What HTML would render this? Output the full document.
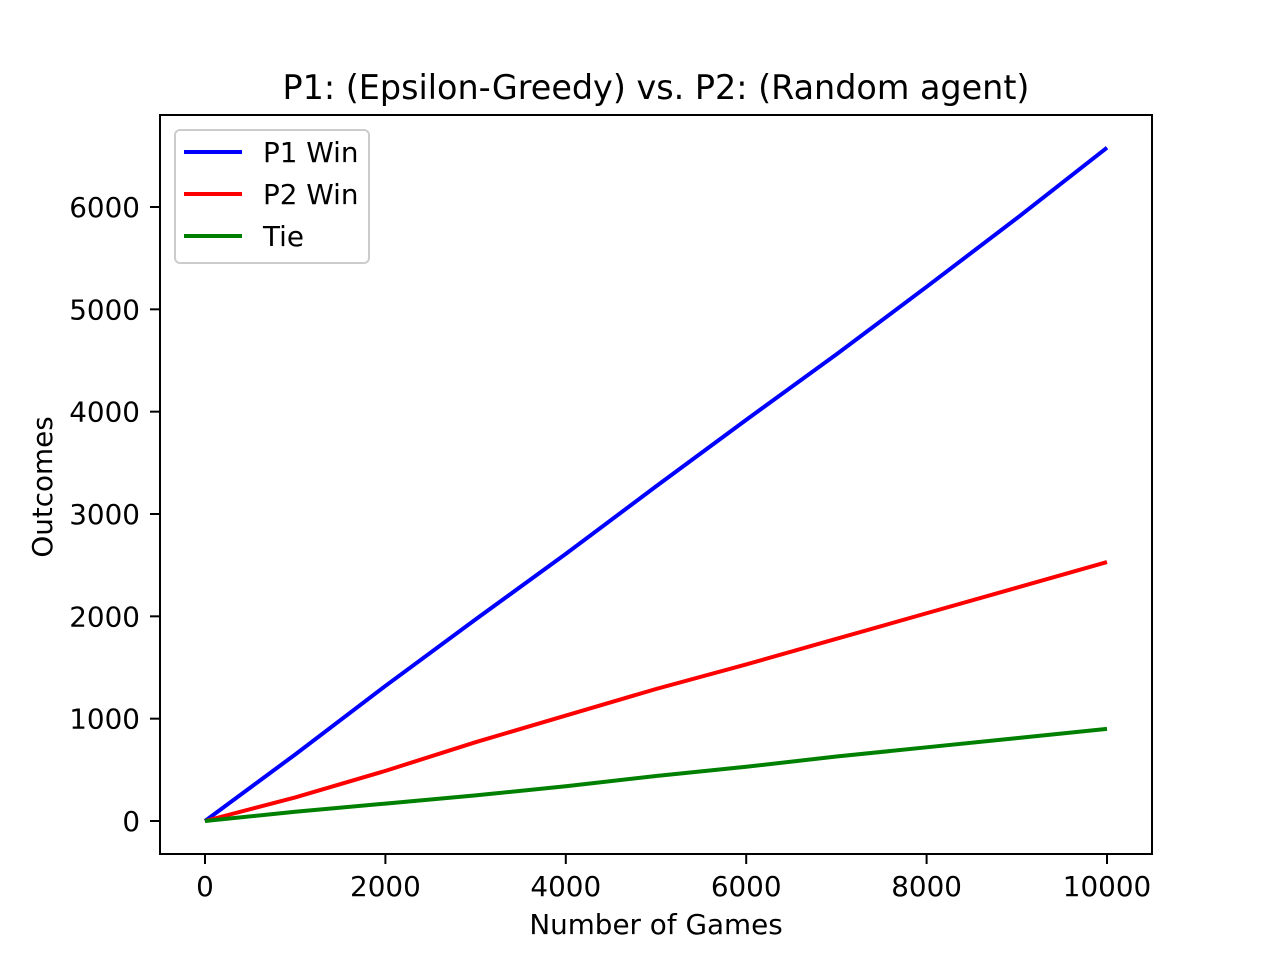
<!DOCTYPE html>
<html><head><meta charset="utf-8"><style>
body{margin:0;background:#fff}
svg{display:block;font-family:"DejaVu Sans","Liberation Sans",sans-serif}
</style></head><body>
<svg id="chart" width="1280" height="960" viewBox="0 0 1280 960">
<rect width="1280" height="960" fill="#fff"/>
<text x="656" y="99" font-size="33.4" text-anchor="middle">P1: (Epsilon-Greedy) vs. P2: (Random agent)</text>
<g id="plot"></g>
<text x="656" y="934" font-size="27.8" text-anchor="middle">Number of Games</text>
<text x="52" y="487" font-size="27.8" text-anchor="middle" transform="rotate(-90 52 487)">Outcomes</text>
<g>
<rect x="175" y="130" width="194" height="133" rx="5" fill="#fff" fill-opacity="0.8" stroke="#ccc" stroke-width="2"/>
<line x1="184" y1="152" x2="242" y2="152" stroke="#0000ff" stroke-width="4"/>
<text x="263" y="162" font-size="27.8">P1 Win</text>
<line x1="184" y1="194" x2="242" y2="194" stroke="#ff0000" stroke-width="4"/>
<text x="263" y="204" font-size="27.8">P2 Win</text>
<line x1="184" y1="236" x2="242" y2="236" stroke="#008000" stroke-width="4"/>
<text x="263" y="246" font-size="27.8">Tie</text>
</g>
</svg>
<script>
const games = [0,1000,2000,3000,4000,5000,6000,7000,8000,9000,10000];
const p1Win = [0,650,1320,1970,2610,3270,3920,4560,5220,5890,6580];
const p2Win = [0,230,490,770,1030,1290,1530,1780,2030,2280,2530];
const tie = [0,90,170,250,340,440,530,630,720,810,900];
const xTicks = [0,2000,4000,6000,8000,10000];
const yTicks = [0,1000,2000,3000,4000,5000,6000];

const NS="http://www.w3.org/2000/svg";
const L=160,R=1152,T=115,B=854;
const xs=v=>205+v*(1107-205)/10000;
const ys=v=>821-v*(821-207)/6000;
const g=document.getElementById('plot');
function mk(tag,attrs){const e=document.createElementNS(NS,tag);for(const k in attrs)e.setAttribute(k,attrs[k]);g.appendChild(e);return e;}
const series=[[p1Win,'#0000ff','p1-win-line'],[p2Win,'#ff0000','p2-win-line'],[tie,'#008000','tie-line']];
series.forEach(([vals,col,name])=>{
  const p=mk('polyline',{points:games.map((x,i)=>xs(x)+','+ys(vals[i])).join(' '),fill:'none',stroke:col,'stroke-width':4,'stroke-linejoin':'round'});
  
  
});
const frame=mk('rect',{x:L,y:T,width:R-L,height:B-T,fill:'none',stroke:'#000','stroke-width':2});


xTicks.forEach(v=>{
  const t=mk('line',{x1:xs(v),y1:B,x2:xs(v),y2:B+10,stroke:'#000','stroke-width':2});
  
  
  const l=mk('text',{x:xs(v),y:B+42,'font-size':27.8,'text-anchor':'middle'});
  l.textContent=v;
  
  
});
yTicks.forEach(v=>{
  const t=mk('line',{x1:L-10,y1:ys(v),x2:L,y2:ys(v),stroke:'#000','stroke-width':2});
  
  
  const l=mk('text',{x:L-20,y:ys(v)+10,'font-size':27.8,'text-anchor':'end'});
  l.textContent=v;
  
  
});
</script>
</body></html>
